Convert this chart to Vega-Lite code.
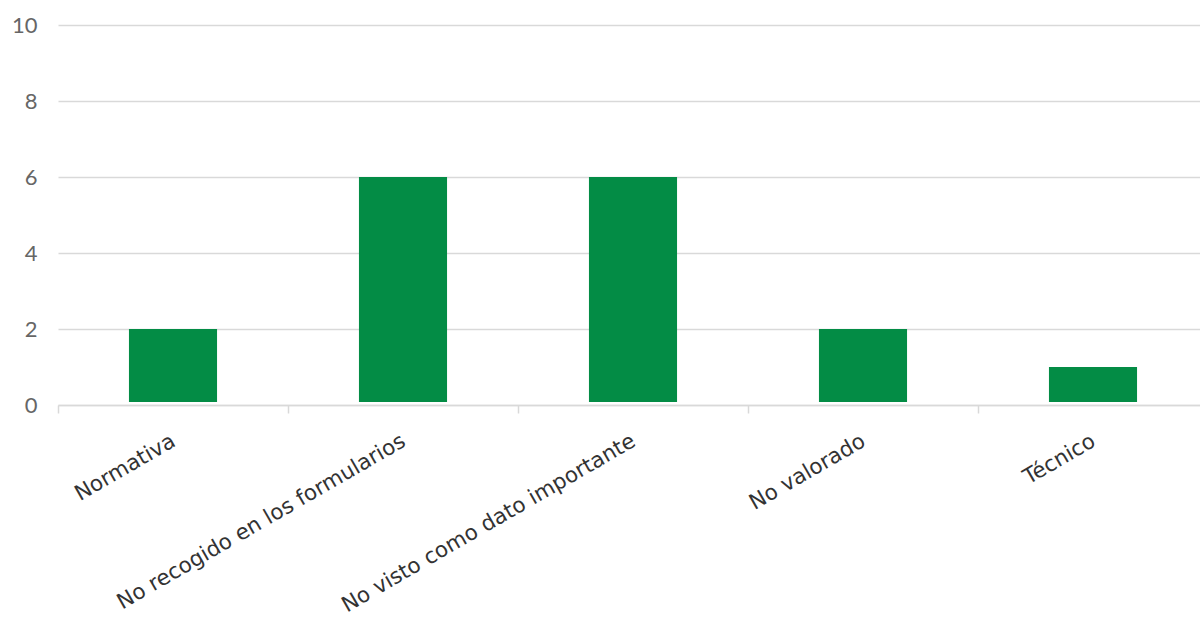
{
  "$schema": "https://vega.github.io/schema/vega-lite/v6.json",
  "width": 1142,
  "height": 380,
  "autosize": {"type": "none"},
  "padding": {"left": 58, "top": 25, "right": 0, "bottom": 219},
  "background": "white",
  "config": {"view": {"stroke": null}},
  "data": {
    "values": [
      {"motivo": "Normativa", "valor": 2},
      {"motivo": "No recogido en los formularios", "valor": 6},
      {"motivo": "No visto como dato importante", "valor": 6},
      {"motivo": "No valorado", "valor": 2},
      {"motivo": "Técnico", "valor": 1}
    ]
  },
  "mark": {"type": "bar", "color": "#038c45", "y2Offset": -3, "width": {"band": 0.383}},
  "encoding": {
    "x": {
      "field": "motivo",
      "type": "nominal",
      "sort": null,
      "scale": {"range": [0, 1150], "paddingInner": 0, "paddingOuter": 0},
      "axis": {
        "title": null,
        "labelAngle": -30,
        "labelAlign": "right",
        "labelBaseline": "top",
        "labelPadding": 17,
        "labelOffset": -5,
        "labelFont": "DejaVu Sans",
        "labelFontSize": 21.5,
        "labelColor": "#333333",
        "labelLimit": 500,
        "tickBand": "extent",
        "tickSize": 8,
        "tickColor": "#d9d9d9",
        "tickWidth": 1.5,
        "domainColor": "#d9d9d9",
        "domainWidth": 1.5,
        "grid": false
      }
    },
    "y": {
      "field": "valor",
      "type": "quantitative",
      "stack": null,
      "scale": {"domain": [0, 10]},
      "axis": {
        "title": null,
        "values": [0, 2, 4, 6, 8, 10],
        "domain": false,
        "ticks": false,
        "labelPadding": 21,
        "labelFont": "Lato",
        "labelFontSize": 22,
        "labelColor": "#666666",
        "gridColor": "#d9d9d9",
        "gridWidth": 1.5
      }
    },
    "y2": {"datum": 0}
  }
}
